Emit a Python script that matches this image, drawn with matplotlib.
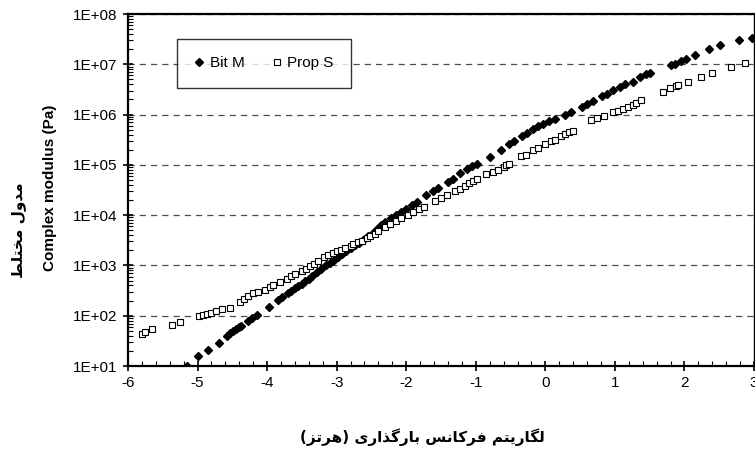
import numpy as np
import matplotlib
matplotlib.use("Agg")
import matplotlib.pyplot as plt
from matplotlib.ticker import FixedLocator, LogLocator, NullFormatter, FuncFormatter

plt.rcParams['font.family'] = ['Liberation Sans', 'DejaVu Sans']
plt.rcParams['axes.unicode_minus'] = False

# log10 of loading frequency (Hz) and log10 of complex modulus (Pa)
bit_m_logf = [-5.15, -5.00, -4.85, -4.69, -4.57, -4.53, -4.49, -4.45, -4.41, -4.37,
              -4.28, -4.22, -4.15, -3.98, -3.84, -3.78, -3.70, -3.65, -3.60, -3.55,
              -3.50, -3.45, -3.40, -3.35, -3.28, -3.22, -3.15, -3.10, -3.04, -2.98,
              -2.92, -2.86, -2.80, -2.74, -2.68, -2.62, -2.55, -2.48, -2.42, -2.36,
              -2.30, -2.22, -2.15, -2.08, -2.00, -1.92, -1.85, -1.72, -1.62, -1.55,
              -1.40, -1.33, -1.22, -1.13, -1.06, -0.98, -0.80, -0.64, -0.52, -0.45,
              -0.33, -0.27, -0.18, -0.10, -0.03, 0.05, 0.14, 0.28, 0.37, 0.52,
              0.60, 0.68, 0.82, 0.88, 0.97, 1.07, 1.14, 1.26, 1.36, 1.45,
              1.50, 1.81, 1.87, 1.95, 2.02, 2.15, 2.36, 2.51, 2.79, 2.97]
bit_m_logg = [1.00, 1.19, 1.32, 1.46, 1.60, 1.65, 1.70, 1.74, 1.77, 1.80,
              1.90, 1.95, 2.01, 2.17, 2.31, 2.37, 2.45, 2.50, 2.55, 2.60,
              2.64, 2.69, 2.73, 2.78, 2.86, 2.92, 3.00, 3.05, 3.11, 3.17,
              3.23, 3.29, 3.34, 3.40, 3.45, 3.51, 3.58, 3.65, 3.72, 3.80,
              3.86, 3.94, 4.00, 4.07, 4.13, 4.20, 4.27, 4.40, 4.48, 4.54,
              4.66, 4.72, 4.83, 4.92, 4.97, 5.02, 5.16, 5.29, 5.42, 5.47,
              5.58, 5.63, 5.72, 5.77, 5.82, 5.87, 5.92, 6.00, 6.06, 6.16,
              6.21, 6.26, 6.36, 6.40, 6.48, 6.54, 6.60, 6.65, 6.75, 6.80,
              6.83, 6.98, 7.01, 7.06, 7.10, 7.18, 7.30, 7.38, 7.48, 7.53]

prop_s_logf = [-5.80, -5.75, -5.66, -5.37, -5.25, -4.98, -4.92, -4.87, -4.80, -4.74,
               -4.65, -4.54, -4.39, -4.33, -4.27, -4.20, -4.13, -4.03, -3.96, -3.91,
               -3.82, -3.72, -3.66, -3.60, -3.50, -3.44, -3.38, -3.32, -3.27, -3.18,
               -3.12, -3.05, -3.00, -2.94, -2.88, -2.80, -2.76, -2.69, -2.64, -2.57,
               -2.52, -2.45, -2.40, -2.30, -2.24, -2.15, -2.07, -1.98, -1.90, -1.82,
               -1.75, -1.58, -1.50, -1.42, -1.30, -1.23, -1.16, -1.10, -1.04, -0.98,
               -0.85, -0.75, -0.68, -0.60, -0.56, -0.52, -0.35, -0.28, -0.18, -0.10,
               0.00, 0.08, 0.14, 0.22, 0.28, 0.34, 0.40, 0.66, 0.75, 0.85,
               0.97, 1.04, 1.12, 1.19, 1.26, 1.31, 1.38, 1.69, 1.79, 1.88,
               1.91, 2.05, 2.24, 2.39, 2.67, 2.87]
prop_s_logg = [1.63, 1.68, 1.73, 1.81, 1.88, 2.00, 2.01, 2.03, 2.06, 2.09,
               2.13, 2.16, 2.28, 2.33, 2.39, 2.45, 2.47, 2.52, 2.57, 2.61,
               2.68, 2.74, 2.78, 2.82, 2.88, 2.93, 2.98, 3.03, 3.08, 3.17,
               3.21, 3.25, 3.28, 3.31, 3.35, 3.39, 3.42, 3.46, 3.49, 3.55,
               3.58, 3.63, 3.68, 3.76, 3.82, 3.88, 3.94, 4.00, 4.06, 4.12,
               4.16, 4.29, 4.34, 4.40, 4.48, 4.52, 4.58, 4.63, 4.68, 4.72,
               4.82, 4.86, 4.90, 4.96, 5.00, 5.02, 5.17, 5.20, 5.29, 5.33,
               5.42, 5.47, 5.50, 5.57, 5.62, 5.65, 5.68, 5.90, 5.93, 5.98,
               6.05, 6.08, 6.12, 6.15, 6.19, 6.23, 6.28, 6.45, 6.52, 6.56,
               6.59, 6.64, 6.74, 6.82, 6.95, 7.02]

x_ticks = [-6, -5, -4, -3, -2, -1, 0, 1, 2, 3]
y_ticks = [1e1, 1e2, 1e3, 1e4, 1e5, 1e6, 1e7, 1e8]
y_tick_labels = ["1E+01", "1E+02", "1E+03", "1E+04", "1E+05", "1E+06", "1E+07", "1E+08"]

x_label_fa = "لگاریتم فرکانس بارگذاری (هرتز)"
y_label_fa = "مدول مختلط"
y_label_en = "Complex modulus (Pa)"

# matplotlib has no arabic shaping, so pick the presentation forms by hand
FORMS = {
    'ا': ('\uFE8D', '\uFE8E', None, None),
    'ب': ('\uFE8F', '\uFE90', '\uFE91', '\uFE92'),
    'ت': ('\uFE95', '\uFE96', '\uFE97', '\uFE98'),
    'خ': ('\uFEA5', '\uFEA6', '\uFEA7', '\uFEA8'),
    'د': ('\uFEA9', '\uFEAA', None, None),
    'ذ': ('\uFEAB', '\uFEAC', None, None),
    'ر': ('\uFEAD', '\uFEAE', None, None),
    'ز': ('\uFEAF', '\uFEB0', None, None),
    'س': ('\uFEB1', '\uFEB2', '\uFEB3', '\uFEB4'),
    'ط': ('\uFEC1', '\uFEC2', '\uFEC3', '\uFEC4'),
    'ف': ('\uFED1', '\uFED2', '\uFED3', '\uFED4'),
    'ل': ('\uFEDD', '\uFEDE', '\uFEDF', '\uFEE0'),
    'م': ('\uFEE1', '\uFEE2', '\uFEE3', '\uFEE4'),
    'ن': ('\uFEE5', '\uFEE6', '\uFEE7', '\uFEE8'),
    'ه': ('\uFEE9', '\uFEEA', '\uFEEB', '\uFEEC'),
    'و': ('\uFEED', '\uFEEE', None, None),
    'ک': ('\uFB8E', '\uFB8F', '\uFB90', '\uFB91'),
    'گ': ('\uFB92', '\uFB93', '\uFB94', '\uFB95'),
    'ی': ('\uFBFC', '\uFBFD', '\uFBFE', '\uFBFF'),
}


def shape(text):
    out = []
    for i, ch in enumerate(text):
        if ch not in FORMS:
            out.append(ch)
            continue
        prev = text[i - 1] if i > 0 else ''
        nxt = text[i + 1] if i + 1 < len(text) else ''
        iso, fin, ini, med = FORMS[ch]
        join_prev = prev in FORMS and FORMS[prev][2] is not None
        join_next = nxt in FORMS and ini is not None
        if join_prev and join_next:
            out.append(med)
        elif join_prev:
            out.append(fin)
        elif join_next:
            out.append(ini)
        else:
            out.append(iso)
    s = ''.join(reversed(out))
    return s.translate(str.maketrans('()', ')('))


fig = plt.figure(figsize=(7.55, 4.51), dpi=100)
ax = fig.add_axes([128 / 755, 85 / 451, 626 / 755, 352 / 451])

ax.plot(bit_m_logf, 10 ** np.array(bit_m_logg), linestyle="none", marker="D",
        markersize=4.2, color="black", label="Bit M", zorder=3)
ax.plot(prop_s_logf, 10 ** np.array(prop_s_logg), linestyle="none", marker="s",
        markersize=5, markerfacecolor="white", markeredgecolor="black",
        markeredgewidth=0.8, label="Prop S", zorder=3)

ax.set_yscale("log")
ax.set_xlim(-6, 3)
ax.set_ylim(1e1, 1e8)

ax.xaxis.set_major_locator(FixedLocator(x_ticks))
ax.xaxis.set_minor_locator(FixedLocator(np.arange(-6, 3.01, 0.2)))
ax.xaxis.set_major_formatter(FuncFormatter(lambda v, p: "%d" % round(v)))
ax.yaxis.set_major_locator(FixedLocator(y_ticks))
ax.set_yticklabels(y_tick_labels)
ax.yaxis.set_minor_locator(LogLocator(base=10, subs=np.arange(2, 10)))
ax.yaxis.set_minor_formatter(NullFormatter())

ax.tick_params(which="major", direction="inout", length=7, width=1.2,
               labelsize=11, pad=4)
ax.tick_params(which="minor", direction="in", length=3.5, width=0.8)

ax.grid(axis="y", which="major", color="0.3", linestyle=(0, (5, 4)), linewidth=0.9)
ax.set_axisbelow(True)

for s in ["left", "bottom", "top"]:
    ax.spines[s].set_linewidth(1.6)
ax.spines["right"].set_linewidth(1.0)

leg = ax.legend(loc="upper left", bbox_to_anchor=(0.078, 0.93), ncol=2,
                fontsize=11, frameon=True, fancybox=False, borderaxespad=0,
                borderpad=1.15, handlelength=0.6, handletextpad=0.4,
                columnspacing=1.8)
leg.get_frame().set_edgecolor("black")
leg.get_frame().set_linewidth(1.0)

fig.text(50 / 755, 1 - 188 / 451, y_label_en, rotation=90, fontsize=11,
         fontweight="bold", ha="center", va="center")
fig.text(19 / 755, 1 - 230 / 451, shape(y_label_fa), rotation=90, fontsize=11,
         fontweight="bold", ha="center", va="center", family=["DejaVu Sans"])
fig.text(422 / 755, 1 - 437 / 451, shape(x_label_fa), fontsize=11,
         fontweight="bold", ha="center", va="center", family=["DejaVu Sans"])

fig.savefig("out.png", dpi=100)
